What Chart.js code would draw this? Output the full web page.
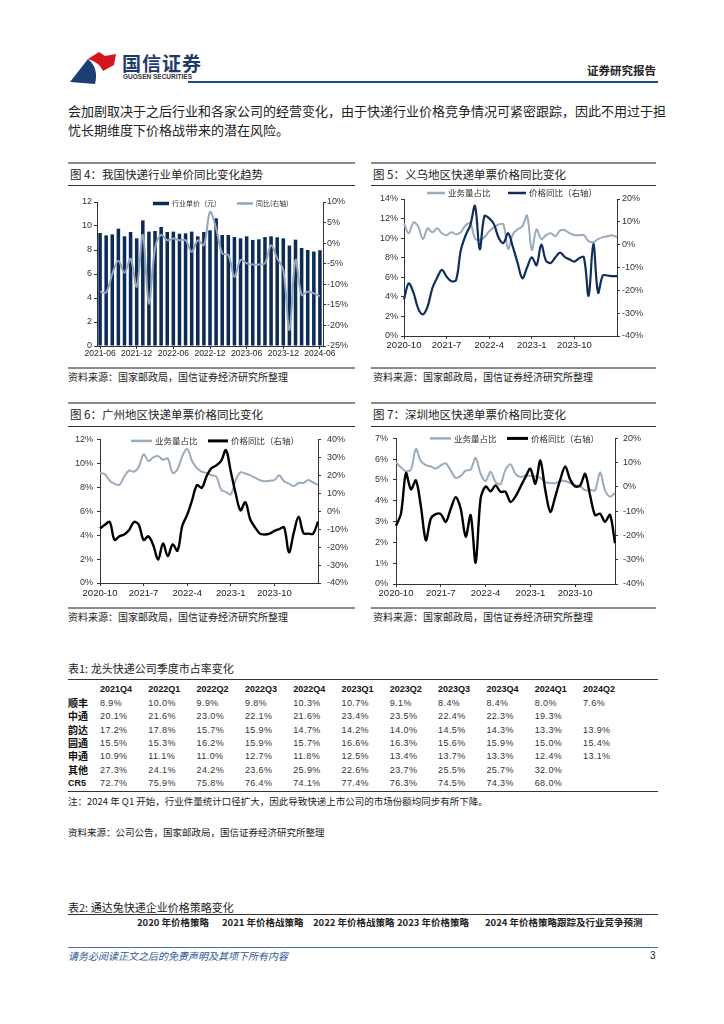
<!DOCTYPE html>
<html>
<head>
<meta charset="utf-8">
<script src="https://cdn.jsdelivr.net/npm/chart.js@4.4.1/dist/chart.umd.min.js"></script>
<style>
  body { margin: 0; width: 724px; height: 1024px; position: relative; background: #fff; overflow: hidden;
         font-family: "Noto Sans CJK SC", "Liberation Sans", sans-serif; color: #222; }
  .t { position: absolute; white-space: nowrap; line-height: 14px; }
  .rule { position: absolute; height: 0; }
  .thick { border-top: 2px solid #8a8a8a; }
  .thin { border-top: 1px solid #333; }
  .ttl { font-size: 11.5px; color: #222; }
  .src { font-size: 10px; color: #222; }
  .box { position: absolute; }
  .cell { position: absolute; white-space: nowrap; font-family: "Liberation Sans", sans-serif; font-size: 9px; color: #333; line-height: 12px; }
</style>
</head>
<body>

<!-- header -->
<svg style="position:absolute;left:68px;top:50px" width="52" height="36" viewBox="0 0 52 36">
  <path d="M2 32 L20 9 Q31 18 27 34 Z" fill="#1b3f73"/>
  <path d="M20 9 L31 2 L37 6 L48 4 L46 15 L35 21 Q31 12 20 9 Z" fill="#d5161e"/>
</svg>
<div class="t" style="left:122px;top:53px;font-size:19px;line-height:20px;color:#1d3a6b;font-weight:700;letter-spacing:1px">国信证券</div>
<div class="t" style="left:123px;top:73px;font-size:6.5px;line-height:8px;font-weight:700;color:#333;font-family:'Liberation Sans'">GUOSEN SECURITIES</div>
<div class="t" style="right:68px;top:63px;font-size:11.5px;font-weight:700;color:#222">证券研究报告</div>
<div class="rule" style="left:188px;top:81px;width:470px;border-top:2px solid #1f4e79"></div>

<div class="t" style="left:68px;top:103px;font-size:13px;line-height:16px">会加剧取决于之后行业和各家公司的经营变化，由于快递行业价格竞争情况可紧密跟踪，因此不用过于担</div>
<div class="t" style="left:68px;top:122px;font-size:13px;line-height:16px">忧长期维度下价格战带来的潜在风险。</div>

<!-- figure 4 -->
<div class="rule thick" style="left:68px;top:162px;width:287px"></div>
<div class="t ttl" style="left:70px;top:167px">图 4：我国快递行业单价同比变化趋势</div>
<div class="rule thin" style="left:68px;top:185px;width:287px"></div>
<div class="box" style="left:68px;top:188px;width:287px;height:174px"><canvas id="c4"></canvas></div>
<div class="rule thick" style="left:68px;top:367px;width:287px"></div>
<div class="t src" style="left:68px;top:370px">资料来源：国家邮政局，国信证券经济研究所整理</div>

<!-- figure 5 -->
<div class="rule thick" style="left:371px;top:162px;width:285px"></div>
<div class="t ttl" style="left:373px;top:167px">图 5：义乌地区快递单票价格同比变化</div>
<div class="rule thin" style="left:371px;top:185px;width:285px"></div>
<div class="box" style="left:371px;top:188px;width:285px;height:172px"><canvas id="c5"></canvas></div>
<div class="rule thick" style="left:371px;top:367px;width:285px"></div>
<div class="t src" style="left:373px;top:370px">资料来源：国家邮政局，国信证券经济研究所整理</div>

<!-- figure 6 -->
<div class="rule thick" style="left:68px;top:402px;width:287px"></div>
<div class="t ttl" style="left:70px;top:407px">图 6：广州地区快递单票价格同比变化</div>
<div class="rule thin" style="left:68px;top:426px;width:287px"></div>
<div class="box" style="left:68px;top:428px;width:287px;height:172px"><canvas id="c6"></canvas></div>
<div class="rule thick" style="left:68px;top:607px;width:287px"></div>
<div class="t src" style="left:68px;top:610px">资料来源：国家邮政局，国信证券经济研究所整理</div>

<!-- figure 7 -->
<div class="rule thick" style="left:371px;top:402px;width:285px"></div>
<div class="t ttl" style="left:373px;top:407px">图 7：深圳地区快递单票价格同比变化</div>
<div class="rule thin" style="left:371px;top:426px;width:285px"></div>
<div class="box" style="left:371px;top:428px;width:285px;height:172px"><canvas id="c7"></canvas></div>
<div class="rule thick" style="left:371px;top:607px;width:285px"></div>
<div class="t src" style="left:373px;top:610px">资料来源：国家邮政局，国信证券经济研究所整理</div>

<!-- table 1 -->
<div class="t" style="left:68px;top:661px;font-size:11px">表1: 龙头快递公司季度市占率变化</div>
<div class="rule thin" style="left:68px;top:679px;width:590px"></div>
<div id="tbl"></div>
<div class="rule thin" style="left:68px;top:791px;width:590px"></div>
<div class="t" style="left:68px;top:794px;font-size:9.5px">注：2024 年 Q1 开始，行业件量统计口径扩大，因此导致快递上市公司的市场份额均同步有所下降。</div>
<div class="t" style="left:68px;top:825px;font-size:9.5px">资料来源：公司公告，国家邮政局，国信证券经济研究所整理</div>

<!-- table 2 -->
<div class="t" style="left:68px;top:900px;font-size:11px">表2: 通达兔快递企业价格策略变化</div>
<div class="rule thin" style="left:68px;top:914px;width:590px"></div>
<div class="t" style="left:137px;top:915px;font-size:9.5px;font-weight:700">2020 年价格策略</div>
<div class="t" style="left:222px;top:915px;font-size:9.5px;font-weight:700">2021 年价格战策略</div>
<div class="t" style="left:313px;top:915px;font-size:9.5px;font-weight:700">2022 年价格战策略</div>
<div class="t" style="left:397px;top:915px;font-size:9.5px;font-weight:700">2023 年价格策略</div>
<div class="t" style="left:485px;top:915px;font-size:9.5px;font-weight:700">2024 年价格策略跟踪及行业竞争预测</div>

<!-- footer -->
<div class="rule" style="left:68px;top:947px;width:590px;border-top:1px solid #4a6fa5"></div>
<div class="t" style="left:68px;top:949px;font-size:10px;color:#2d5597;font-style:italic">请务必阅读正文之后的免责声明及其项下所有内容</div>
<div class="t" style="left:650px;top:949px;font-size:10px;font-family:'Liberation Sans'">3</div>

<script>
// ---- figure 4: industry unit price (yuan) and yoy (%) ----
const priceMonths = ['2021-06','2021-07','2021-08','2021-09','2021-10','2021-11','2021-12',
  '2022-01','2022-02','2022-03','2022-04','2022-05','2022-06','2022-07','2022-08','2022-09','2022-10','2022-11','2022-12',
  '2023-01','2023-02','2023-03','2023-04','2023-05','2023-06','2023-07','2023-08','2023-09','2023-10','2023-11','2023-12',
  '2024-01','2024-02','2024-03','2024-04','2024-05','2024-06'];
const unitPrice = [9.42, 9.22, 9.3, 9.78, 9.14, 9.5, 8.97, 10.47, 9.53, 9.58, 9.92, 9.5, 9.53, 9.36, 9.39, 9.53, 9.14, 9.5, 9.64,
  10.64, 9.25, 9.25, 9.08, 8.97, 9.14, 8.84, 8.89, 9.08, 9.14, 9.06, 8.97, 8.37, 8.86, 8.17, 8.0, 7.87, 7.98];
const priceYoY = [-11.8, -12.0, -7.5, -4.3, -7.2, -3.8, -10.6, 2.0, -14.7, -1.3, 2.0, 0.7, 1.1, 0.7, 0.7, -2.1, 0.7, -0.5, 7.6,
  3.6, -2.5, -2.9, -8.2, -4.1, -4.9, -5.2, -5.2, -4.9, -0.5, -3.7, -6.5, -21.1, -4.1, -12.6, -11.8, -12.2, -12.9];
const priceTicks = ['2021-06','2021-12','2022-06','2022-12','2023-06','2023-12','2024-06'];

// ---- figures 5-7: monthly, 2020-10 onwards ----
const cityMonths = ['2020-10','2020-11','2020-12',
  '2021-1','2021-2','2021-3','2021-4','2021-5','2021-6','2021-7','2021-8','2021-9','2021-10','2021-11','2021-12',
  '2022-1','2022-2','2022-3','2022-4','2022-5','2022-6','2022-7','2022-8','2022-9','2022-10','2022-11','2022-12',
  '2023-1','2023-2','2023-3','2023-4','2023-5','2023-6','2023-7','2023-8','2023-9','2023-10','2023-11','2023-12',
  '2024-1','2024-2','2024-3','2024-4','2024-5','2024-6','2024-7'];
const cityTicks = ['2020-10','2021-7','2022-4','2023-1','2023-10'];

const ywShare = [11.5, 10.5, 11.6, 11.2, 9.9, 11.0, 10.6, 11.0, 10.5, 10.3, 10.6, 10.4, 10.6, 11.3, 11.5, 10.0, 9.8, 10.1, 10.7, 11.1,
  11.4, 11.4, 8.9, 10.4, 10.9, 11.2, 12.3, 8.8, 10.9, 9.9, 10.3, 10.5, 10.2, 10.8, 10.8, 10.5, 10.3, 10.3, 10.3, 9.7,
  9.6, 9.9, 10.1, 10.2, 10.3, 10.1];
const ywYoY = [-24, -17, -21, -28, -30.5, -27, -19, -14.5, -11, -14, -16, -15.5, -2.5, 4, 8.5, 17, -2, 12.5, 11.5, 9,
  3, 0.7, 5, -1, -8, -14.7, -10, -5.5, -9, 0, -7, -8, -5.5, -3.5, -5.5, -6.5, -7.4, -6, -5.5, -22.4,
  0.3, -21, -13.5, -13.5, -13.8, -13.8];

const gzShare = [9.2, 9.1, 8.55, 8.3, 8.2, 8.9, 9.4, 9.3, 9.7, 10.75, 10.2, 10.5, 10.6, 10.3, 10.4, 9.2, 9.5, 10.6, 11.2, 10.2,
  9.6, 9.3, 9.2, 9.0, 8.9, 7.8, 7.6, 7.4, 8.6, 9.25, 9.15, 9.0, 8.8, 8.6, 8.5, 8.55, 8.6, 9.0, 8.5, 8.3,
  8.1, 8.36, 8.36, 8.6, 8.4, 8.2];
const gzYoY = [-9.6, -7.6, -6, -16, -14, -13, -10.5, -6, -7.5, -16, -14, -19, -27, -18, -25, -18.5, -22, -8, -2, 6,
  14.5, 13, 19.5, 24, 25.5, 28, 34, 22, 10, 0.5, 5, -4.5, -9, -12.5, -13, -12.5, -11, -10, -9, -22.9,
  -12, -3, -12.2, -12.5, -12.5, -5.8];

const szMonths = cityMonths.slice(0, 45);
const szShare = [5.85, 5.6, 5.42, 5.5, 6.49, 5.9, 5.72, 5.65, 5.55, 5.7, 5.8, 5.45, 5.1, 5.2, 5.45, 5.5, 6.06, 5.3, 4.95, 5.4,
  4.9, 4.8, 5.5, 5.75, 5.3, 5.15, 5.2, 5.2, 5.17, 5.1, 4.9, 4.85, 4.85, 4.95, 4.95, 4.85, 4.75, 4.7, 4.5, 4.53,
  4.5, 5.37, 4.5, 4.2, 4.37];
const szYoY = [-16, -11, 5.7, -1, 2.7, -8, -22, -13, -11.2, -11.2, -14.4, -9, -4.2, -9, -20.5, -11.6, -31.2, -4.8, 0.2, -1.8,
  0.6, -2, -2, -6.2, -4, 0, 4, 7.5, 1.3, 10.9, -1.4, -10.3, -4, 3, 8.4, 3, 0.2, 0.6, 5.4, -3.5,
  -11.6, -11, -14.4, -11.5, -23.2];

// ---- table 1: quarterly market share (%) ----
const quarters = ['2021Q4','2022Q1','2022Q2','2022Q3','2022Q4','2023Q1','2023Q2','2023Q3','2023Q4','2024Q1','2024Q2'];
const sfShare  = [8.9, 10.0, 9.9, 9.8, 10.3, 10.7, 9.1, 8.4, 8.4, 8.0, 7.6];
const ztoShare = [20.1, 21.6, 23.0, 22.1, 21.6, 23.4, 23.5, 22.4, 22.3, 19.3, null];
const ydShare  = [17.2, 17.8, 15.7, 15.9, 14.7, 14.2, 14.0, 14.5, 14.3, 13.3, 13.9];
const ytoShare = [15.5, 15.3, 16.2, 15.9, 15.7, 16.6, 16.3, 15.6, 15.9, 15.0, 15.4];
const stoShare = [10.9, 11.1, 11.0, 12.7, 11.8, 12.5, 13.4, 13.7, 13.3, 12.4, 13.1];
const otherShare = [27.3, 24.1, 24.2, 23.6, 25.9, 22.6, 23.7, 25.5, 25.7, 32.0, null];
const cr5Share = [72.7, 75.9, 75.8, 76.4, 74.1, 77.4, 76.3, 74.5, 74.3, 68.0, null];
const tableRows = [['顺丰', sfShare], ['中通', ztoShare], ['韵达', ydShare], ['圆通', ytoShare],
  ['申通', stoShare], ['其他', otherShare], ['CR5', cr5Share]];

const tbl = document.getElementById('tbl');
function cell(text, x, y, css) {
  const d = document.createElement('div');
  d.className = 'cell';
  d.style.left = x + 'px';
  d.style.top = y + 'px';
  if (css) d.style.cssText += css;
  d.textContent = text;
  tbl.appendChild(d);
}
quarters.forEach((q, i) => cell(q, 100 + i * 48.3, 683, 'font-weight:700;color:#111'));
tableRows.forEach(([name, vals], r) => {
  const y = 697 + r * 13.3;
  cell(name, 68, y, name === 'CR5' ? 'font-weight:700;color:#111' : 'font-family:"Noto Sans CJK SC";font-size:10px;font-weight:700;color:#111');
  vals.forEach((v, i) => { if (v !== null) cell(v.toFixed(1) + '%', 100 + i * 48.3, y, 'letter-spacing:0.4px'); });
});

// ---- chart helpers ----
Chart.defaults.font.family = '"Liberation Sans", "Noto Sans CJK SC", sans-serif';
const axisColor = '#333';

const inlineLegend = {
  id: 'inlineLegend',
  afterDraw(chart, args, opts) {
    if (!opts.items) return;
    const { ctx, chartArea } = chart;
    const y = chartArea.top + opts.dy;
    ctx.save();
    ctx.font = opts.size + 'px "Noto Sans CJK SC"';
    ctx.textBaseline = 'middle';
    opts.items.forEach((it, i) => {
      const ds = chart.data.datasets[i];
      ctx.fillStyle = ds.borderColor || ds.backgroundColor;
      ctx.fillRect(chartArea.left + it.x, y - it.h / 2, it.w, it.h);
      ctx.fillStyle = '#333';
      ctx.fillText(ds.label, chartArea.left + it.x + it.w + 3, y);
    });
    ctx.restore();
  }
};

function yAxis(pos, min, max, step, fmt, width, pad) {
  return {
    position: pos, min, max,
    ticks: { stepSize: step, callback: fmt, font: { size: 9 }, color: '#333', padding: pad },
    grid: { drawOnChartArea: false, tickLength: 3, color: axisColor },
    border: { color: axisColor },
    afterFit: s => { s.width = width; }
  };
}

function xAxis(shown, height, offset, size, pad) {
  return {
    offset,
    ticks: {
      autoSkip: false, maxRotation: 0, font: { size }, color: '#222', padding: pad,
      callback(v) { const l = this.getLabelForValue(v); return shown.includes(l) ? l : ''; }
    },
    grid: { offset: false, drawOnChartArea: false, tickLength: 3,
      color: c => (c.tick && c.tick.label) ? axisColor : 'rgba(0,0,0,0)' },
    border: { color: axisColor },
    afterFit: s => { s.height = height; }
  };
}

const pct = v => v + '%';

// figure 4
new Chart(document.getElementById('c4'), {
  type: 'bar',
  data: {
    labels: priceMonths,
    datasets: [
      { label: '行业单价（元）', data: unitPrice, backgroundColor: '#0d2b57', yAxisID: 'y', order: 2,
        barPercentage: 0.58, categoryPercentage: 1 },
      { type: 'line', label: '同比(右轴)', data: priceYoY, borderColor: '#93a6ba', borderWidth: 2,
        pointRadius: 0, tension: 0.35, yAxisID: 'y1', order: 1 }
    ]
  },
  options: {
    responsive: true, maintainAspectRatio: false, animation: false,
    layout: { padding: { top: 14, left: 0, right: 0, bottom: 0 } },
    plugins: { legend: { display: false }, tooltip: { enabled: false },
      inlineLegend: { size: 7, dy: 1.5, items: [{ x: 56, w: 16, h: 3.5 }, { x: 140, w: 16, h: 2.5 }] } },
    scales: {
      x: xAxis(priceTicks, 16, true, 8.5, 0),
      y: yAxis('left', 0, 12, 2, v => v, 29, 2),
      y1: yAxis('right', -25, 10, 5, pct, 32, 1)
    }
  },
  plugins: [inlineLegend]
});

function cityChart(id, labels, share, yoy, cfg) {
  new Chart(document.getElementById(id), {
    type: 'line',
    data: {
      labels,
      datasets: [
        { label: '业务量占比', data: share, borderColor: '#9aabbc', borderWidth: 2, pointRadius: 0,
          tension: cfg.tension, yAxisID: 'y', order: 2 },
        { label: '价格同比（右轴）', data: yoy, borderColor: cfg.dark, borderWidth: cfg.darkWidth, pointRadius: 0,
          tension: cfg.tension, yAxisID: 'y1', order: 1 }
      ]
    },
    options: {
      responsive: true, maintainAspectRatio: false, animation: false,
      layout: { padding: { top: cfg.top, left: 0, right: 0, bottom: 0 } },
      plugins: { legend: { display: false }, tooltip: { enabled: false },
        inlineLegend: { size: cfg.legendSize, dy: cfg.legendDy, items: cfg.legendItems } },
      scales: {
        x: xAxis(cityTicks, cfg.xh, false, 9.5, cfg.xpad),
        y: yAxis('left', 0, cfg.leftMax, cfg.leftStep, pct, cfg.lw, cfg.lpad),
        y1: yAxis('right', -40, cfg.rightMax, 10, pct, cfg.rw, cfg.rpad)
      }
    },
    plugins: [inlineLegend]
  });
}

cityChart('c5', cityMonths, ywShare, ywYoY, {
  dark: '#0f2e5c', darkWidth: 2.2, tension: 0.35, top: 11, xh: 24, xpad: 1,
  leftMax: 14, leftStep: 2, rightMax: 20, lw: 33, lpad: 3, rw: 39, rpad: 2,
  legendSize: 8.5, legendDy: -6, legendItems: [{ x: 23, w: 18, h: 2.5 }, { x: 104, w: 18, h: 2.5 }]
});
cityChart('c6', cityMonths, gzShare, gzYoY, {
  dark: '#000', darkWidth: 2.4, tension: 0.35, top: 10, xh: 17, xpad: 2,
  leftMax: 12, leftStep: 2, rightMax: 40, lw: 32, lpad: 4, rw: 37, rpad: 6,
  legendSize: 8.5, legendDy: 1.5, legendItems: [{ x: 31, w: 21, h: 2.5 }, { x: 108, w: 20, h: 3 }]
});
cityChart('c7', szMonths, szShare, szYoY, {
  dark: '#000', darkWidth: 2.4, tension: 0.3, top: 10, xh: 16, xpad: 1,
  leftMax: 7, leftStep: 1, rightMax: 20, lw: 25, lpad: 5, rw: 41, rpad: 5,
  legendSize: 8.5, legendDy: 0, legendItems: [{ x: 34, w: 21, h: 2.5 }, { x: 111, w: 21, h: 3 }]
});
</script>
</body>
</html>
